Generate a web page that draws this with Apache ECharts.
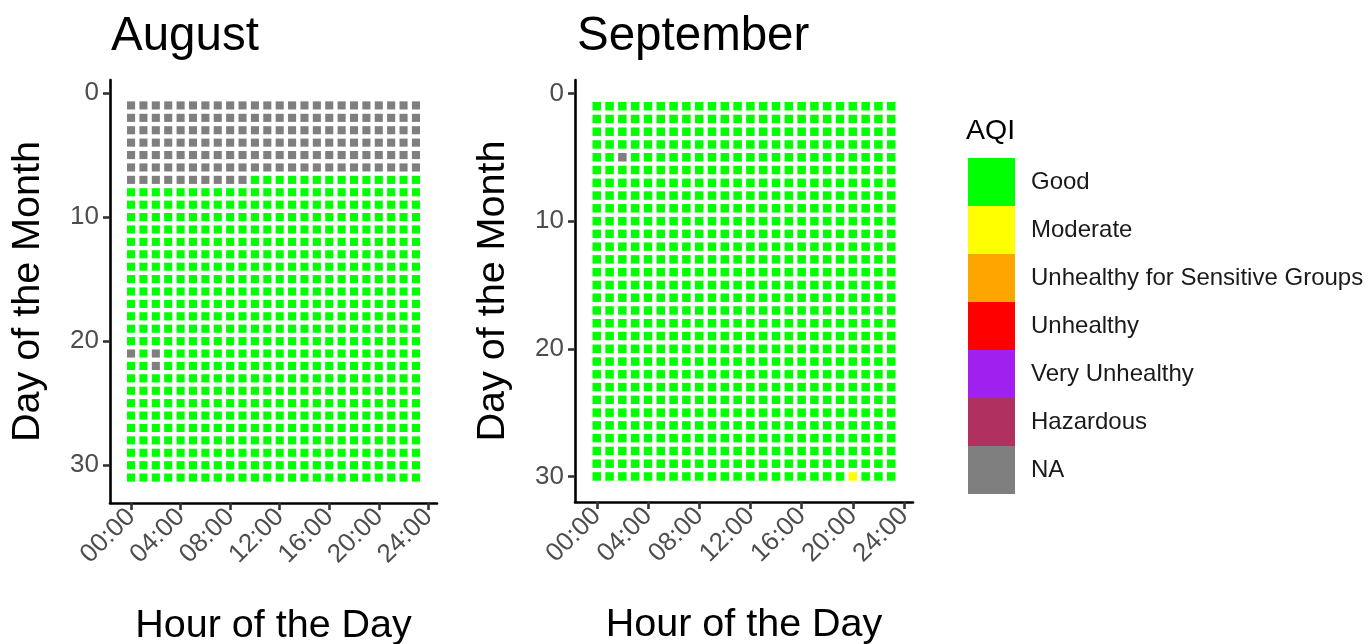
<!DOCTYPE html>
<html><head><meta charset="utf-8">
<script src="https://cdn.jsdelivr.net/npm/echarts@6/dist/echarts.min.js"></script>
<style>html,body{margin:0;padding:0;background:#fff}#c{width:1370px;height:644px}</style>
</head><body><div id="c"></div>
<script>
const aqiLevels = ['Good','Moderate','Unhealthy for Sensitive Groups','Unhealthy','Very Unhealthy','Hazardous','NA'];
const aqiColors = ['#00FF00','#FFFF00','#FFA500','#FF0000','#A020F0','#B03060','#7F7F7F'];
const codeToLevel = {G:'Good', M:'Moderate', N:'NA'};
const hourTicks = [0,4,8,12,16,20,24];
const dayTicks = [0,10,20,30];
// one string per day (day 1 first), one letter per hour 00..23
const augustRows = [
  'NNNNNN NNNNNN NNNNNN NNNNNN', // 1
  'NNNNNN NNNNNN NNNNNN NNNNNN', // 2
  'NNNNNN NNNNNN NNNNNN NNNNNN', // 3
  'NNNNNN NNNNNN NNNNNN NNNNNN', // 4
  'NNNNNN NNNNNN NNNNNN NNNNNN', // 5
  'NNNNNN NNNNNN NNNNNN NNNNNN', // 6
  'NNNNNN NNNNGG GGGGGG GGGGGG', // 7
  'GGGGGG GGGGGG GGGGGG GGGGGG', // 8
  'GGGGGG GGGGGG GGGGGG GGGGGG', // 9
  'GGGGGG GGGGGG GGGGGG GGGGGG', // 10
  'GGGGGG GGGGGG GGGGGG GGGGGG', // 11
  'GGGGGG GGGGGG GGGGGG GGGGGG', // 12
  'GGGGGG GGGGGG GGGGGG GGGGGG', // 13
  'GGGGGG GGGGGG GGGGGG GGGGGG', // 14
  'GGGGGG GGGGGG GGGGGG GGGGGG', // 15
  'GGGGGG GGGGGG GGGGGG GGGGGG', // 16
  'GGGGGG GGGGGG GGGGGG GGGGGG', // 17
  'GGGGGG GGGGGG GGGGGG GGGGGG', // 18
  'GGGGGG GGGGGG GGGGGG GGGGGG', // 19
  'GGGGGG GGGGGG GGGGGG GGGGGG', // 20
  'NGNGGG GGGGGG GGGGGG GGGGGG', // 21
  'GGNGGG GGGGGG GGGGGG GGGGGG', // 22
  'GGGGGG GGGGGG GGGGGG GGGGGG', // 23
  'GGGGGG GGGGGG GGGGGG GGGGGG', // 24
  'GGGGGG GGGGGG GGGGGG GGGGGG', // 25
  'GGGGGG GGGGGG GGGGGG GGGGGG', // 26
  'GGGGGG GGGGGG GGGGGG GGGGGG', // 27
  'GGGGGG GGGGGG GGGGGG GGGGGG', // 28
  'GGGGGG GGGGGG GGGGGG GGGGGG', // 29
  'GGGGGG GGGGGG GGGGGG GGGGGG', // 30
  'GGGGGG GGGGGG GGGGGG GGGGGG'  // 31
];
const septemberRows = [
  'GGGGGG GGGGGG GGGGGG GGGGGG', // 1
  'GGGGGG GGGGGG GGGGGG GGGGGG', // 2
  'GGGGGG GGGGGG GGGGGG GGGGGG', // 3
  'GGGGGG GGGGGG GGGGGG GGGGGG', // 4
  'GGNGGG GGGGGG GGGGGG GGGGGG', // 5
  'GGGGGG GGGGGG GGGGGG GGGGGG', // 6
  'GGGGGG GGGGGG GGGGGG GGGGGG', // 7
  'GGGGGG GGGGGG GGGGGG GGGGGG', // 8
  'GGGGGG GGGGGG GGGGGG GGGGGG', // 9
  'GGGGGG GGGGGG GGGGGG GGGGGG', // 10
  'GGGGGG GGGGGG GGGGGG GGGGGG', // 11
  'GGGGGG GGGGGG GGGGGG GGGGGG', // 12
  'GGGGGG GGGGGG GGGGGG GGGGGG', // 13
  'GGGGGG GGGGGG GGGGGG GGGGGG', // 14
  'GGGGGG GGGGGG GGGGGG GGGGGG', // 15
  'GGGGGG GGGGGG GGGGGG GGGGGG', // 16
  'GGGGGG GGGGGG GGGGGG GGGGGG', // 17
  'GGGGGG GGGGGG GGGGGG GGGGGG', // 18
  'GGGGGG GGGGGG GGGGGG GGGGGG', // 19
  'GGGGGG GGGGGG GGGGGG GGGGGG', // 20
  'GGGGGG GGGGGG GGGGGG GGGGGG', // 21
  'GGGGGG GGGGGG GGGGGG GGGGGG', // 22
  'GGGGGG GGGGGG GGGGGG GGGGGG', // 23
  'GGGGGG GGGGGG GGGGGG GGGGGG', // 24
  'GGGGGG GGGGGG GGGGGG GGGGGG', // 25
  'GGGGGG GGGGGG GGGGGG GGGGGG', // 26
  'GGGGGG GGGGGG GGGGGG GGGGGG', // 27
  'GGGGGG GGGGGG GGGGGG GGGGGG', // 28
  'GGGGGG GGGGGG GGGGGG GGGGGG', // 29
  'GGGGGG GGGGGG GGGGGG GGMGGG'  // 30
];

function toTiles(rows){
  const out = [];
  rows.forEach((row, i) => {
    row.replace(/\s/g,'').split('').forEach((c, h) => {
      out.push([h, i + 1, aqiLevels.indexOf(codeToLevel[c])]);
    });
  });
  return out;
}

const FONT = '"Liberation Sans", Arial, sans-serif';
const GAP = 4.3;
function renderTile(params, api){
  const x = api.value(0), y = api.value(1);
  const a = api.coord([x - 0.5, y - 0.5]);
  const b = api.coord([x + 0.5, y + 0.5]);
  const left = Math.min(a[0], b[0]), top = Math.min(a[1], b[1]);
  const w = Math.abs(b[0] - a[0]), h = Math.abs(b[1] - a[1]);
  return {type:'rect', shape:{x:left + GAP/2, y:top + GAP/2, width:w - GAP, height:h - GAP},
          style:{fill: api.visual('color')}};
}

function xAxisFor(gi){
  return {type:'value', gridIndex:gi, min:-1.7, max:24.7,
    name:'Hour of the Day', nameLocation:'middle', nameGap:103,
    nameTextStyle:{fontSize:39.5, color:'#000', fontFamily:FONT},
    axisLine:{show:true, onZero:false, lineStyle:{color:'#000', width:2.6}},
    axisTick:{show:true, length:7, lineStyle:{color:'#333', width:2.6}, customValues:hourTicks},
    axisLabel:{customValues:hourTicks, rotate:45, fontSize:26, color:'#4D4D4D', margin:10, fontFamily:FONT,
      formatter:v => String(v).padStart(2,'0') + ':00'},
    splitLine:{show:false}};
}
function yAxisFor(gi, maxV){
  return {type:'value', gridIndex:gi, inverse:true, min:-1.05, max:maxV,
    name:'Day of the Month', nameLocation:'middle', nameRotate:90, nameGap:62,
    nameTextStyle:{fontSize:39.5, color:'#000', fontFamily:FONT},
    axisLine:{show:true, onZero:false, lineStyle:{color:'#000', width:2.6}},
    axisTick:{show:true, length:7, lineStyle:{color:'#333', width:2.6}, customValues:dayTicks},
    axisLabel:{customValues:dayTicks, fontSize:26, color:'#4D4D4D', margin:11, fontFamily:FONT},
    splitLine:{show:false}};
}

const chart = echarts.init(document.getElementById('c'), null, {renderer:'canvas'});
chart.setOption({
  backgroundColor:'#fff',
  animation:false,
  title:[
    {text:'August', left:111, top:13, padding:0, textStyle:{fontSize:47.5, fontWeight:'normal', color:'#000', fontFamily:FONT}},
    {text:'September', left:577, top:13, padding:0, textStyle:{fontSize:47.5, fontWeight:'normal', color:'#000', fontFamily:FONT}},
    {text:'AQI', left:966, top:117, padding:0, textStyle:{fontSize:28.5, fontWeight:'normal', color:'#000', fontFamily:FONT}}
  ],
  grid:[
    {left:110, top:80, width:327, height:423, containLabel:false, outerBoundsMode:'none'},
    {left:575, top:80, width:338, height:422, containLabel:false, outerBoundsMode:'none'}
  ],
  xAxis:[xAxisFor(0), xAxisFor(1)],
  yAxis:[yAxisFor(0, 33.05), yAxisFor(1, 32)],
  visualMap:{
    type:'piecewise', seriesIndex:[0,1], dimension:2, orient:'vertical', inverse:true, align:'left',
    pieces: aqiLevels.map((l, i) => ({value:i, label:l, color:aqiColors[i]})),
    left:968, top:158, itemWidth:47, itemHeight:48, itemGap:0, itemSymbol:'rect',
    textGap:16, padding:0, selectedMode:false, hoverLink:false,
    textStyle:{fontSize:24, color:'#1A1A1A', fontFamily:FONT}
  },
  series:[
    {type:'custom', name:'August', xAxisIndex:0, yAxisIndex:0, renderItem:renderTile,
     dimensions:['hour','day','level'], encode:{x:0, y:1}, data:toTiles(augustRows)},
    {type:'custom', name:'September', xAxisIndex:1, yAxisIndex:1, renderItem:renderTile,
     dimensions:['hour','day','level'], encode:{x:0, y:1}, data:toTiles(septemberRows)}
  ]
});
</script>
</body></html>
